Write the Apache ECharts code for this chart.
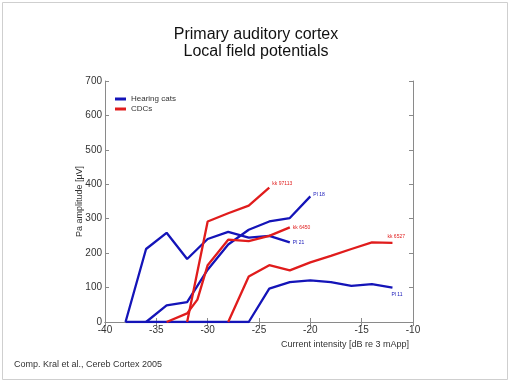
<!DOCTYPE html>
<html><head><meta charset="utf-8">
<script src="https://cdn.jsdelivr.net/npm/echarts@6/dist/echarts.min.js"></script>
<style>html,body{margin:0;padding:0;background:#fff}#c{width:512px;height:384px}</style>
</head><body><div id="c"></div>
<script>
// Data (x = current intensity [dB re 3 mApp], y = Pa amplitude [µV])
var pl21X = [-38, -36, -34, -32, -30, -28, -26, -24, -22];
var pl21Y = [0, 212, 259, 183, 241, 262, 245, 250, 231];
var pl18X = [-36, -34, -32, -30, -28, -26, -24, -22, -20];
var pl18Y = [0, 48, 58, 152, 225, 268, 292, 302, 365];
var pl11X = [-38, -36, -34, -32, -30, -28, -26, -24, -22, -20, -18, -16, -14, -12];
var pl11Y = [0, 0, 0, 0, 0, 0, 0, 97, 116, 121, 116, 105, 110, 100];
var kk97113X = [-32, -30, -28, -26, -24];
var kk97113Y = [0, 292, 316, 338, 390];
var kk6450X = [-34, -32, -31, -30, -28, -26, -24, -22];
var kk6450Y = [0, 25, 65, 165, 239, 235, 250, 275];
var kk6527X = [-28, -26, -24, -22, -20, -18, -16, -14, -12];
var kk6527Y = [0, 132, 165, 150, 173, 192, 212, 231, 230];
var xTicks = [-40, -35, -30, -25, -20, -15, -10];
var yTicks = [0, 100, 200, 300, 400, 500, 600, 700];
var groupNames = ['Hearing cats', 'CDCs'];

var BLUE = '#1414b8', RED = '#e01c1c';
function pairs(xs, ys){ return xs.map(function(x,i){ return [x, ys[i]]; }); }
function mk(group, color, xs, ys, tag, off){
  return {
    type:'line', name: group, data: pairs(xs, ys), symbol:'none', z: color===RED?3:2,
    lineStyle:{color:color, width:2.3}, itemStyle:{color:color},
    endLabel:{show:true, formatter: tag, color: color, fontSize: 5, fontFamily:'Liberation Sans, Arial', offset: off, distance: 3},
    animation:false
  };
}
var chart = echarts.init(document.getElementById('c'));
var axisLine = {lineStyle:{color:'#8a8a8a', width:1}};
chart.setOption({
  backgroundColor:'#fff',
  animation:false,
  title:{text:'Primary auditory cortex\nLocal field potentials', left:'center', top:21,
    textStyle:{fontSize:16, fontWeight:'normal', color:'#111', fontFamily:'Liberation Sans, Arial', lineHeight:17}},
  legend:{show:true, left:110, top:90, orient:'vertical', itemGap:2, itemWidth:11, itemHeight:3, icon:'rect',
    data: groupNames, textStyle:{fontSize:8, color:'#333', fontFamily:'Liberation Sans, Arial'}, itemStyle:{borderWidth:0}},
  grid:{left:105, right:99, top:81, bottom:62},
  xAxis:[{type:'value', min:-40, max:-10, interval:5, axisLine:axisLine,
    axisTick:{inside:true, length:4, lineStyle:{color:'#8a8a8a'}},
    axisLabel:{fontSize:10, color:'#333', fontFamily:'Liberation Sans, Arial', margin:3},
    splitLine:{show:false},
    name:'Current intensity [dB re 3 mApp]', nameLocation:'end', nameGap:-4, nameMoveOverlap:false,
    nameTextStyle:{align:'right', verticalAlign:'top', padding:[18,0,0,0], fontSize:9, color:'#333', fontFamily:'Liberation Sans, Arial'}},
   {type:'value', position:'top', min:-40, max:-10, interval:5, axisLine:axisLine,
    axisTick:{inside:true, length:4, lineStyle:{color:'#8a8a8a'}}, axisLabel:{show:false}, splitLine:{show:false}}],
  yAxis:[{type:'value', min:0, max:700, interval:100, axisLine:{show:true, lineStyle:{color:'#8a8a8a'}},
    axisTick:{show:true, inside:true, length:4, lineStyle:{color:'#8a8a8a'}},
    axisLabel:{fontSize:10, color:'#333', fontFamily:'Liberation Sans, Arial', margin:3},
    splitLine:{show:false},
    name:'Pa amplitude [\u00b5V]', nameLocation:'middle', nameGap:21, nameMoveOverlap:false,
    nameTextStyle:{fontSize:9, color:'#333', fontFamily:'Liberation Sans, Arial'}},
   {type:'value', position:'right', min:0, max:700, interval:100, axisLine:{show:true, lineStyle:{color:'#8a8a8a'}},
    axisTick:{show:true, inside:true, length:4, lineStyle:{color:'#8a8a8a'}}, axisLabel:{show:false}, splitLine:{show:false}}],
  graphic:[
    {type:'rect', shape:{x:2.5, y:2.5, width:505, height:377}, style:{fill:'none', stroke:'#cfcfcf', lineWidth:1}, silent:true},
    {type:'text', left:14, top:360, style:{text:'Comp. Kral et al., Cereb Cortex 2005', fontSize:9, fill:'#333', fontFamily:'Liberation Sans, Arial'}}
  ],
  series:[
    mk(groupNames[0], BLUE, pl11X, pl11Y, 'Pl 11', [-4, 7]),
    mk(groupNames[0], BLUE, pl21X, pl21Y, 'Pl 21', [0, 0]),
    mk(groupNames[0], BLUE, pl18X, pl18Y, 'Pl 18', [0, -2]),
    mk(groupNames[1], RED, kk97113X, kk97113Y, 'kk 97113', [0, -4]),
    mk(groupNames[1], RED, kk6450X, kk6450Y, 'kk 6450', [0, 0]),
    mk(groupNames[1], RED, kk6527X, kk6527Y, 'kk 6527', [-8, -6])
  ]
});
</script></body></html>
